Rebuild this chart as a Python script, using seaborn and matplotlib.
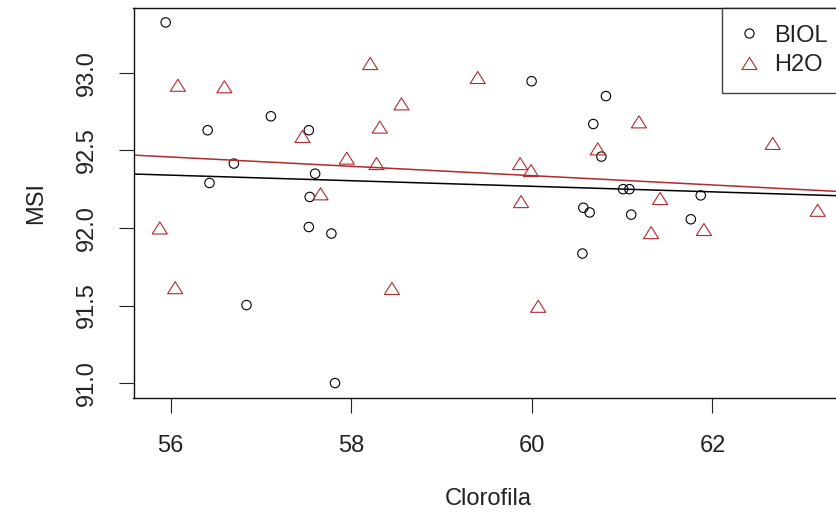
import numpy as np
import pandas as pd
import matplotlib
matplotlib.use("Agg")
import matplotlib.pyplot as plt
from matplotlib.lines import Line2D
from matplotlib.path import Path
import seaborn as sns

# Clorofila / MSI readings per treatment
biol_clorofila = [55.945, 57.11, 56.41, 57.53, 56.70, 57.60, 56.43, 57.54,
                  56.84, 57.53, 57.78, 57.82, 59.997, 60.82, 60.68, 60.77,
                  60.57, 60.64, 60.56, 61.01, 61.08, 61.87, 61.10, 61.76]
biol_msi = [93.325, 92.72, 92.63, 92.63, 92.415, 92.35, 92.29, 92.20,
            91.503, 92.006, 91.964, 91.00, 92.946, 92.85, 92.67, 92.46,
            92.13, 92.10, 91.835, 92.25, 92.25, 92.21, 92.086, 92.056]

h2o_clorofila = [56.08, 56.595, 57.46, 57.95, 58.21, 58.556, 58.316, 58.28,
                 57.66, 55.88, 56.05, 59.40, 60.73, 59.87, 59.99, 59.88,
                 58.45, 60.07, 61.186, 62.667, 61.42, 61.32, 61.905, 63.165]
h2o_msi = [92.92, 92.91, 92.59, 92.45, 93.06, 92.80, 92.65, 92.415,
           92.22, 92.00, 91.615, 92.97, 92.51, 92.415, 92.37, 92.17,
           91.61, 91.495, 92.684, 92.545, 92.19, 91.97, 91.99, 92.114]

groups = ["BIOL", "H2O"]
x_ticks = [56, 58, 60, 62]
y_ticks = [91.0, 91.5, 92.0, 92.5, 93.0]

df = pd.DataFrame({
    "Clorofila": biol_clorofila + h2o_clorofila,
    "MSI": biol_msi + h2o_msi,
    "grupo": [groups[0]] * len(biol_clorofila) + [groups[1]] * len(h2o_clorofila),
})

sns.set_theme(style="white")
plt.rcParams["font.family"] = ["Liberation Sans", "DejaVu Sans"]

RED = "#b02a2e"
BLACK = "#000000"
FS = 17

# open triangle a little flatter than equilateral
tri = Path([(0, 0.8), (-1, -0.8), (1, -0.8), (0, 0.8)],
           [Path.MOVETO, Path.LINETO, Path.LINETO, Path.CLOSEPOLY])

fig = plt.figure(figsize=(8.37, 5.22), dpi=100)
W, H = 837, 522
left, right, bottom, top = 133.5, 844, 397.5, 8
ax = fig.add_axes([left / W, (H - bottom) / H, (right - left) / W, (bottom - top) / H])

# axis ranges padded by 4% of the data span on each side
xs = df["Clorofila"].to_numpy()
ys = df["MSI"].to_numpy()
xpad = 0.04 * (xs.max() - xs.min())
ypad = 0.04 * (ys.max() - ys.min())
xlim = (xs.min() - xpad, xs.max() + xpad)
ylim = (ys.min() - ypad, ys.max() + ypad)
ax.set_xlim(*xlim)
ax.set_ylim(*ylim)

sub_b = df[df["grupo"] == "BIOL"]
sub_h = df[df["grupo"] == "H2O"]

sns.scatterplot(data=sub_b, x="Clorofila", y="MSI", ax=ax, marker="o",
                s=46, facecolors="none", edgecolor=BLACK, linewidth=0.8,
                legend=False)
sns.scatterplot(data=sub_h, x="Clorofila", y="MSI", ax=ax, marker=tri,
                s=118, facecolors="none", edgecolor=RED, linewidth=0.8,
                legend=False)

# least-squares fit per treatment, extended across the plot
sns.regplot(data=sub_b, x="Clorofila", y="MSI", ax=ax, scatter=False,
            ci=None, truncate=False, color=BLACK, line_kws={"linewidth": 1.1})
sns.regplot(data=sub_h, x="Clorofila", y="MSI", ax=ax, scatter=False,
            ci=None, truncate=False, color=RED, line_kws={"linewidth": 1.1})

ax.set_xlim(*xlim)
ax.set_ylim(*ylim)

ax.set_xticks(x_ticks)
ax.set_xticklabels([str(t) for t in x_ticks])
ax.set_yticks(y_ticks)
ax.set_yticklabels([f"{t:.1f}" for t in y_ticks], rotation=90, va="center")

ax.tick_params(axis="both", direction="out", length=11, width=0.8,
               colors="#222222", labelsize=FS, bottom=True, left=True)
ax.tick_params(axis="x", pad=16)
ax.tick_params(axis="y", pad=15)

for s in ax.spines.values():
    s.set_color("#111111")
    s.set_linewidth(1.0)

ax.set_xlabel("Clorofila", fontsize=FS, color="#222222", labelpad=22)
ax.set_ylabel("MSI", fontsize=FS, color="#222222", labelpad=20)

handles = [
    Line2D([], [], linestyle="none", marker="o", markersize=6.6,
           markerfacecolor="none", markeredgecolor=BLACK, markeredgewidth=0.8),
    Line2D([], [], linestyle="none", marker=tri, markersize=10.8,
           markerfacecolor="none", markeredgecolor=RED, markeredgewidth=0.8),
]
leg = ax.legend(handles, groups, loc="upper right", bbox_to_anchor=(1, 1),
                borderaxespad=0, frameon=True, fancybox=False, fontsize=FS,
                handlelength=0.88, handletextpad=0.6, borderpad=0.7,
                labelspacing=0.32)
leg.get_frame().set_edgecolor("#111111")
leg.get_frame().set_linewidth(1.0)
for t in leg.get_texts():
    t.set_color("#222222")

fig.savefig("out.png", dpi=100)
